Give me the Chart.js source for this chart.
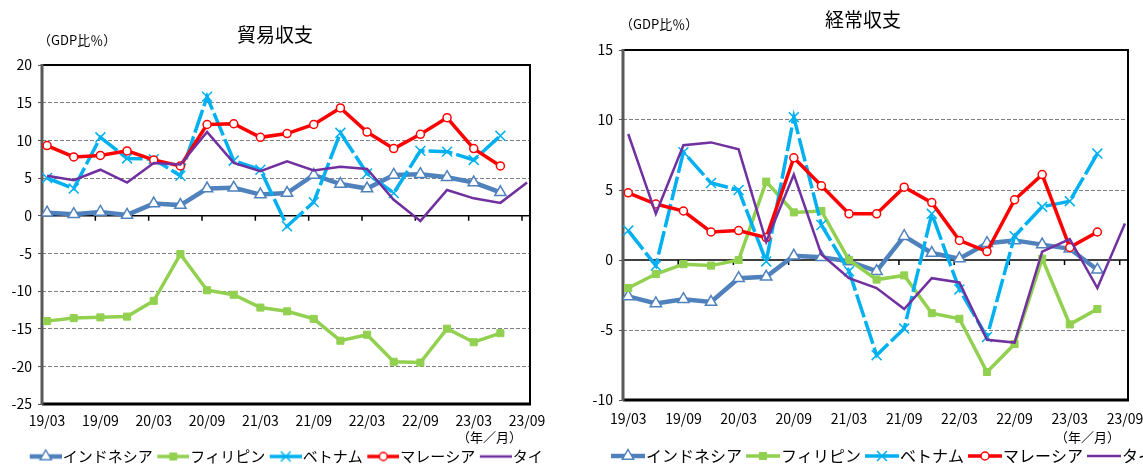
<!DOCTYPE html>
<html lang="ja">
<head>
<meta charset="UTF-8">
<title>貿易収支・経常収支</title>
<script src="https://cdn.jsdelivr.net/npm/chart.js@4"></script>
<style>
  html, body { margin: 0; padding: 0; background: #fff; overflow: hidden; }
  .box { position: absolute; top: 0; height: 474px; }
  #leftBox { left: 0; width: 568px; }
  #rightBox { left: 580px; width: 601px; }
</style>
</head>
<body>
<div id="leftBox" class="box"><canvas id="tradeChart"></canvas></div>
<div id="rightBox" class="box"><canvas id="currentChart"></canvas></div>
<script>
// quarters, 19/03 .. 23/09
const quarters = ['19/03', '19/06', '19/09', '19/12', '20/03', '20/06', '20/09', '20/12',
  '21/03', '21/06', '21/09', '21/12', '22/03', '22/06', '22/09', '22/12', '23/03', '23/06', '23/09'];
const countries = ['インドネシア', 'フィリピン', 'ベトナム', 'マレーシア', 'タイ'];
const unitText = '（GDP比％）';
const periodText = '（年／月）';

// 貿易収支 (GDP比%)
const tradeIndonesia = [0.4, 0.2, 0.5, 0.1, 1.6, 1.4, 3.6, 3.7, 2.8, 3.0, 5.4, 4.2, 3.6, 5.4, 5.5, 5.1, 4.4, 3.1, null];
const tradePhilippines = [-14.0, -13.6, -13.5, -13.4, -11.3, -5.1, -9.9, -10.5, -12.2, -12.7, -13.7, -16.6, -15.8, -19.4, -19.5, -15.0, -16.8, -15.6, null];
const tradeVietnam = [5.0, 3.6, 10.4, 7.6, 7.5, 5.3, 15.8, 7.3, 6.1, -1.4, 1.8, 11.0, 5.6, 3.0, 8.6, 8.5, 7.4, 10.6, null];
const tradeMalaysia = [9.3, 7.8, 8.0, 8.6, 7.4, 6.6, 12.1, 12.2, 10.4, 10.9, 12.1, 14.3, 11.1, 8.9, 10.8, 13.0, 8.9, 6.6, null];
const tradeThailand = [5.3, 4.7, 6.1, 4.4, 7.0, 6.8, 11.1, 7.0, 5.9, 7.2, 6.0, 6.5, 6.2, 2.1, -0.7, 3.4, 2.3, 1.7, 4.4];

// 経常収支 (GDP比%)
const caIndonesia = [-2.6, -3.1, -2.8, -3.0, -1.3, -1.2, 0.3, 0.2, -0.1, -0.8, 1.7, 0.5, 0.1, 1.2, 1.4, 1.1, 0.8, -0.7, null];
const caPhilippines = [-2.0, -1.0, -0.3, -0.4, 0.0, 5.6, 3.4, 3.5, 0.0, -1.4, -1.1, -3.8, -4.2, -8.0, -6.0, 0.1, -4.6, -3.5, null];
const caVietnam = [2.1, -0.4, 7.7, 5.5, 5.0, -0.1, 10.2, 2.5, -0.8, -6.8, -4.9, 3.3, -2.1, -5.5, 1.7, 3.8, 4.2, 7.6, null];
const caMalaysia = [4.8, 4.0, 3.5, 2.0, 2.1, 1.6, 7.3, 5.3, 3.3, 3.3, 5.2, 4.1, 1.4, 0.6, 4.3, 6.1, 0.9, 2.0, null];
const caThailand = [9.0, 3.3, 8.2, 8.4, 7.9, 1.3, 6.1, 0.4, -1.3, -2.0, -3.5, -1.3, -1.6, -5.7, -5.9, 0.6, 1.5, -2.0, 2.6];

const FONT = '"Noto Sans CJK JP", sans-serif';
Chart.defaults.font.family = FONT;
Chart.defaults.color = '#000';

// line / marker look for each country
const seriesLook = [
  { color: '#4F81BD', width: 4.5, point: 'triangle', radius: 6.5, fill: '#fff', pointBorder: 1.5, dash: [] },
  { color: '#92D050', width: 3.5, point: 'rect', radius: 5, fill: '#92D050', pointBorder: 1, dash: [] },
  { color: '#00B0F0', width: 3.5, point: 'crossRot', radius: 7, fill: '#00B0F0', pointBorder: 1.5, dash: [24, 4] },
  { color: '#FF0000', width: 3.5, point: 'circle', radius: 4, fill: '#fff', pointBorder: 1.5, dash: [] },
  { color: '#7030A0', width: 2.5, point: false, radius: 0, fill: '#7030A0', pointBorder: 0, dash: [] }
];

function drawMarker(g, look, x, y) {
  const r = look.radius;
  g.lineWidth = look.pointBorder;
  g.strokeStyle = look.color;
  g.fillStyle = look.fill;
  g.beginPath();
  if (look.point === 'triangle') {
    g.moveTo(x, y - r);
    g.lineTo(x + r * 0.866, y + r / 2);
    g.lineTo(x - r * 0.866, y + r / 2);
    g.closePath();
    g.fill(); g.stroke();
  } else if (look.point === 'rect') {
    const s = r * Math.SQRT1_2;
    g.rect(x - s, y - s, 2 * s, 2 * s);
    g.fill(); g.stroke();
  } else if (look.point === 'crossRot') {
    const s = r * Math.SQRT1_2;
    g.moveTo(x - s, y - s); g.lineTo(x + s, y + s);
    g.moveTo(x - s, y + s); g.lineTo(x + s, y - s);
    g.stroke();
  } else if (look.point === 'circle') {
    g.arc(x, y, r, 0, Math.PI * 2);
    g.fill(); g.stroke();
  }
}

// legend icon: transparent lead-in + line with the marker in the middle
function legendIcon(look, lineLen, lead) {
  const c = document.createElement('canvas');
  c.width = lead + lineLen;
  c.height = 16;
  const g = c.getContext('2d');
  g.strokeStyle = look.color;
  g.lineWidth = look.width;
  g.beginPath();
  g.moveTo(lead, 8);
  g.lineTo(lead + lineLen, 8);
  g.stroke();
  if (look.point) drawMarker(g, look, lead + lineLen / 2, 8);
  return c;
}

function makeDecor(cfg) {
  return {
    id: 'decor',
    beforeDatasetsDraw(chart) {
      const { ctx, chartArea: a, scales: { x, y } } = chart;
      const y0 = y.getPixelForValue(0);
      ctx.save();
      ctx.strokeStyle = '#000';
      ctx.lineWidth = 1.5;
      ctx.beginPath();
      ctx.moveTo(a.left, y0);
      ctx.lineTo(a.right, y0);
      // half-year tick marks on the zero line
      for (let v = x.min + 2; v < x.max; v += 2) {
        const px = x.getPixelForValue(v);
        ctx.moveTo(px, y0);
        ctx.lineTo(px, y0 + 5);
      }
      ctx.stroke();
      // plot frame
      ctx.lineWidth = 2;
      ctx.beginPath();
      ctx.moveTo(a.left, a.top);
      ctx.lineTo(a.right, a.top);
      ctx.lineTo(a.right, a.bottom);
      ctx.stroke();
      ctx.lineWidth = 3;
      ctx.beginPath();
      ctx.moveTo(a.left, a.bottom);
      ctx.lineTo(a.right + 1, a.bottom);
      ctx.stroke();
      ctx.strokeStyle = '#595959';
      ctx.beginPath();
      ctx.moveTo(a.left, a.top - 1);
      ctx.lineTo(a.left, a.bottom + 1);
      ctx.stroke();
      ctx.restore();
    },
    afterDraw(chart) {
      const ctx = chart.ctx;
      ctx.save();
      ctx.fillStyle = '#000';
      ctx.textBaseline = 'middle';
      ctx.textAlign = 'center';
      ctx.font = '19px ' + FONT;
      ctx.fillText(cfg.title, cfg.titleX, cfg.titleY);
      ctx.font = '13px ' + FONT;
      ctx.textAlign = 'left';
      ctx.fillText(unitText, cfg.unitX, cfg.unitY);
      ctx.textAlign = 'right';
      ctx.fillText(periodText, cfg.periodX, cfg.periodY);
      ctx.restore();
    }
  };
}

function makeChart(canvasId, series, cfg) {
  const lead = cfg.legendBox + cfg.legendFont - 2 - cfg.iconLen;
  const icons = seriesLook.map(look => legendIcon(look, cfg.iconLen, lead));

  const datasets = series.map((values, i) => {
    const look = seriesLook[i];
    return {
      label: countries[i],
      data: values.map((v, k) => ({ x: k, y: v })),
      borderColor: look.color,
      borderWidth: look.width,
      borderDash: look.dash,
      pointStyle: look.point,
      pointRadius: look.radius,
      pointHoverRadius: look.radius,
      pointBorderWidth: look.pointBorder,
      pointBackgroundColor: look.fill,
      pointBorderColor: look.color,
      tension: 0,
      fill: false,
      order: series.length - i
    };
  });

  return new Chart(document.getElementById(canvasId), {
    type: 'line',
    data: { datasets },
    plugins: [makeDecor(cfg)],
    options: {
      responsive: true,
      maintainAspectRatio: false,
      animation: false,
      events: [],
      layout: { padding: { top: cfg.top, left: 0, right: 0, bottom: 0 } },
      scales: {
        x: {
          type: 'linear',
          min: -0.19,
          max: 18.11,
          afterBuildTicks: s => {
            s.ticks = quarters.map((q, i) => ({ value: i })).filter(t => t.value % 2 === 0);
          },
          afterFit: s => { s.height = cfg.xHeight; },
          ticks: {
            autoSkip: false,
            maxRotation: 0,
            padding: cfg.xPad,
            font: { size: 14 },
            color: '#000',
            callback: v => quarters[v]
          },
          grid: { display: false, drawTicks: false },
          border: { display: false }
        },
        y: {
          min: cfg.yMin,
          max: cfg.yMax,
          afterFit: s => { s.width = cfg.yWidth; },
          ticks: { stepSize: 5, padding: 6, font: { size: 14 }, color: '#000' },
          grid: {
            color: c => (c.tick.value === 0 || c.tick.value === cfg.yMin || c.tick.value === cfg.yMax) ? 'rgba(0,0,0,0)' : '#7f7f7f',
            lineWidth: 1,
            tickLength: 4,
            tickColor: '#555'
          },
          border: { display: false, dash: [4, 2] }
        },
        yr: {
          position: 'right',
          afterFit: s => { s.width = cfg.rightGap; },
          ticks: { display: false },
          grid: { display: false, drawTicks: false },
          border: { display: false }
        }
      },
      plugins: {
        title: { display: false },
        tooltip: { enabled: false },
        legend: {
          position: 'bottom',
          onClick: null,
          labels: {
            usePointStyle: true,
            pointStyleWidth: cfg.legendBox,
            padding: 0,
            color: '#000',
            font: { size: cfg.legendFont },
            generateLabels: chart => chart.data.datasets.map((ds, i) => ({
              text: ds.label,
              pointStyle: icons[i],
              datasetIndex: i,
              fontColor: '#000',
              lineWidth: 0,
              hidden: false
            }))
          }
        }
      }
    }
  });
}

makeChart('tradeChart',
  [tradeIndonesia, tradePhilippines, tradeVietnam, tradeMalaysia, tradeThailand],
  {
    title: '貿易収支', titleX: 275, titleY: 35,
    unitX: 38, unitY: 40, periodX: 522, periodY: 437,
    top: 65, yWidth: 42, rightGap: 38, xHeight: 45, xPad: 8,
    yMin: -25, yMax: 20,
    legendFont: 15, legendBox: 30, iconLen: 32
  });

makeChart('currentChart',
  [caIndonesia, caPhilippines, caVietnam, caMalaysia, caThailand],
  {
    title: '経常収支', titleX: 283, titleY: 20,
    unitX: 40, unitY: 24, periodX: 540, periodY: 437,
    top: 50, yWidth: 43, rightGap: 53, xHeight: 48, xPad: 10,
    yMin: -10, yMax: 15,
    legendFont: 16, legendBox: 31, iconLen: 34
  });
</script>
</body>
</html>
